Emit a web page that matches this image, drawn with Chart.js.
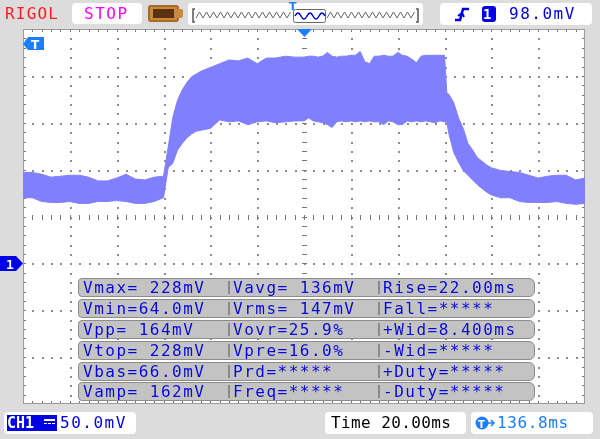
<!DOCTYPE html>
<html><head><meta charset="utf-8">
<script src="https://cdn.jsdelivr.net/npm/chart.js@4/dist/chart.umd.min.js"></script>
<style>
html,body{margin:0;padding:0;}
body{width:600px;height:439px;background:#dcdcdc;position:relative;overflow:hidden;font-family:"DejaVu Sans Mono",monospace;}
#c{position:absolute;left:0;top:0;}
.abs{position:absolute;}
.t{font-family:"DejaVu Sans Mono",monospace;font-size:16px;letter-spacing:1.5px;line-height:18px;white-space:pre;}
.box{background:#fff;border-radius:4px;}
.row{position:absolute;left:78px;width:455px;height:17px;background:#c3c3c3;border:1px solid #8c8c8c;border-radius:4px 6px 6px 4px;}
.cell{position:absolute;top:0;height:17px;color:#0000e6;text-shadow:0 0 1px rgba(255,255,140,0.6);}
.sep{position:absolute;top:2px;width:2px;height:13px;background:#8a8a8a;}
</style>
</head><body>
<canvas id="c" width="600" height="439"></canvas>

<!-- top bar -->
<div class="abs t" style="left:5px;top:5px;color:#ff1a1a;letter-spacing:1.2px;">RIGOL</div>
<div class="abs box" style="left:72px;top:3px;width:70px;height:21px;"></div>
<div class="abs t" style="left:84px;top:5px;color:#ff00ff;">STOP</div>
<div class="abs" style="left:148px;top:5px;width:27px;height:13px;background:#c88a3e;border:2px solid #a86a28;border-radius:3px;"></div>
<div class="abs" style="left:153px;top:9px;width:21px;height:9px;background:#5a3410;"></div>
<div class="abs" style="left:177px;top:9px;width:6px;height:9px;background:#c88a3e;border-radius:0 2px 2px 0;"></div>
<div class="abs box" style="left:188px;top:3px;width:235px;height:22px;border-radius:3px;"></div>
<svg class="abs" style="left:188px;top:0px;" width="235" height="28" id="ov"></svg>
<div class="abs box" style="left:440px;top:3px;width:152px;height:22px;"></div>
<svg class="abs" style="left:452px;top:5px;" width="20" height="18"><polyline points="3,15 8,15 11,4 17,4" fill="none" stroke="#0000e6" stroke-width="2.5"/><polyline points="6,11 10,8 12,12" fill="none" stroke="#0000e6" stroke-width="2"/></svg>
<div class="abs" style="left:482px;top:6px;width:14px;height:16px;background:#0000e6;border-radius:3px;"></div>
<div class="abs t" style="left:483px;top:5px;color:#fff;font-weight:bold;font-size:14px;">1</div>
<div class="abs t" style="left:509px;top:5px;color:#0000e6;">98.0mV</div>

<!-- markers -->
<svg class="abs" style="left:297px;top:29px;" width="15" height="9"><polygon points="0,0 15,0 7.5,8" fill="#1a7fff"/></svg>
<svg class="abs" style="left:23px;top:37px;" width="22" height="14"><polygon points="0,7 5,0 21,0 21,13 5,13" fill="#1a7fff"/><text x="8" y="11.5" font-family="DejaVu Sans" font-weight="bold" font-size="12" fill="#fff">T</text></svg>
<svg class="abs" style="left:0px;top:256px;" width="24" height="15"><polygon points="0,0 16,0 23,7.5 16,15 0,15" fill="#0000e6"/><text x="6" y="12.5" font-family="DejaVu Sans Mono" font-weight="bold" font-size="13" fill="#fff">1</text></svg>

<!-- measurement table -->
<div id="meas"></div>

<!-- bottom bar -->
<div class="abs box" style="left:4px;top:412px;width:132px;height:22px;"></div>
<div class="abs" style="left:7px;top:415px;width:50px;height:16px;background:#0000e6;"></div>
<div class="abs t" style="left:7px;top:414px;color:#fff;font-weight:bold;letter-spacing:0px;font-size:15px;">CH1</div>
<div class="abs" style="left:44px;top:419px;width:11px;height:2px;background:#fff;"></div>
<div class="abs" style="left:44px;top:423px;width:11px;height:1px;border-top:1px dashed #fff;"></div>
<div class="abs t" style="left:60px;top:414px;color:#0000e6;">50.0mV</div>
<div class="abs box" style="left:325px;top:412px;width:141px;height:22px;"></div>
<div class="abs t" style="left:331px;top:414px;color:#000;letter-spacing:0.4px;">Time 20.00ms</div>
<div class="abs box" style="left:471px;top:412px;width:122px;height:22px;"></div>
<svg class="abs" style="left:475px;top:416px;" width="24" height="16"><circle cx="7" cy="7" r="6.5" fill="#1a7fff"/><text x="3" y="11.5" font-family="DejaVu Sans" font-weight="bold" font-size="10" fill="#fff">T</text><polyline points="13,7 19,7" stroke="#1a7fff" stroke-width="1.5"/><polyline points="16,4 19,7 16,10" fill="none" stroke="#1a7fff" stroke-width="1.5"/></svg>
<div class="abs t" style="left:497px;top:414px;color:#1a7fff;letter-spacing:0.6px;">136.8ms</div>

<script>
// ---- data (time in ms relative to trigger, voltage in mV) ----
const timeMs = [-120,-116,-112,-108,-104,-100,-96,-92,-88,-84,-80,-76,-72,-68,-64,-60,
  -58,-56,-54,-52,-50,-48,-46,-44,
  -40,-36,-32,-28,-24,-20,-16,-12,-8,-4,
  0,2,4,6,8,10,12,14,16,18,20,22,24,26,28,30,32,34,36,38,40,42,44,46,48,50,52,54,56,58,60,
  61,62,
  64,66,68,70,72,74,76,78,80,
  84,88,92,96,100,104,108,112,116,120];
const upperMv = [97,97,95,92,93,94,94,92,88,88,91,95,90,89,92,93,
  124,156,174,185,193,199,202,205,
  209,213,217,216,219,213,219,219,221,220,
  220,221,221,220,221,225,221,220,221,221,222,222,226,215,213,221,221,222,221,221,225,222,221,218,214,221,222,222,222,222,222,
  182,180,
  171,155,144,128,121,113,109,105,102,
  99,98,97,94,91,93,94,94,89,91];
const lowerMv = [70,70,66,65,65,66,64,64,66,66,67,66,64,64,66,70,
  102,107,121,128,134,138,141,142,
  144,153,151,152,148,151,152,150,151,152,
  152,155,152,151,150,148,145,151,152,151,152,151,152,151,152,151,151,148,152,151,148,148,152,151,152,151,152,151,150,152,151,
  150,137,
  118,108,99,94,89,84,80,76,73,
  70,70,66,65,65,65,66,64,63,64];
const xMin = -120, xMax = 120;     // 12 div x 20 ms
const yMin = -150, yMax = 250;     // 8 div x 50 mV
const measRows = [
  ["Vmax= 228mV","Vavg= 136mV","Rise=22.00ms"],
  ["Vmin=64.0mV","Vrms= 147mV","Fall=*****"],
  ["Vpp= 164mV","Vovr=25.9%","+Wid=8.400ms"],
  ["Vtop= 228mV","Vpre=16.0%","-Wid=*****"],
  ["Vbas=66.0mV","Prd=*****","+Duty=*****"],
  ["Vamp= 162mV","Freq=*****","-Duty=*****"]
];

// measurement table
(function(){
  const m = document.getElementById('meas');
  const tops=[278,299,320,341,362,382];
  measRows.forEach((r,i)=>{
    const row=document.createElement('div'); row.className='row'; row.style.top=tops[i]+'px';
    const lefts=[4,154,304];
    r.forEach((txt,j)=>{
      const c=document.createElement('div'); c.className='cell t'; c.style.left=lefts[j]+'px'; c.textContent=txt; row.appendChild(c);
      if(j>0){const s=document.createElement('div'); s.className='sep'; s.style.left=(lefts[j]-5)+'px'; row.appendChild(s);}
    });
    m.appendChild(row);
  });
})();

// overview zigzag (decoration)
(function(){
  const svg=document.getElementById('ov');
  function zig(x0,x1,y0,y1,step){let p=[];let k=0;for(let x=x0;x<=x1;x+=step/2){p.push(x+','+(k%2?y0:y1));k++;}return p.join(' ');}
  svg.innerHTML =
   '<text x="101" y="10" font-family="DejaVu Sans" font-weight="bold" font-size="11" fill="#1a7fff">T</text>'+
   '<polyline points="7,9 5,9 5,22 7,22" fill="none" stroke="#555" stroke-width="1.5"/>'+
   '<polyline points="228,9 230,9 230,22 228,22" fill="none" stroke="#555" stroke-width="1.5"/>'+
   '<polyline points="'+zig(8,104,12,18,7)+'" fill="none" stroke="#666" stroke-width="1"/>'+
   '<polyline points="'+zig(139,227,12,18,7)+'" fill="none" stroke="#666" stroke-width="1"/>'+
   '<rect x="105.5" y="9.5" width="32" height="13" rx="2" fill="#fff" stroke="#666"/>'+
   '<path d="M107,16 Q110,10 113,16 T119,16 T125,16 T131,16 T137,16" fill="none" stroke="#0000e6" stroke-width="1.5"/>';
})();

const graticule = {
  id:'graticule',
  beforeDraw(chart){
    const {ctx, chartArea:a} = chart;
    ctx.save();
    ctx.fillStyle='#fff'; ctx.fillRect(a.left,a.top,a.right-a.left,a.bottom-a.top);
    const dx=(a.right-a.left)/60, dy=(a.bottom-a.top)/40;
    ctx.fillStyle='#8c8c8c';
    for(let i=1;i<12;i++){ if(i===6) continue; const px=Math.round(a.left+i*dx*5);
      for(let k=1;k<40;k++){ ctx.fillRect(px,Math.round(a.top+k*dy),2,2);} }
    for(let j=1;j<8;j++){ if(j===4) continue; const py=Math.round(a.top+j*dy*5);
      for(let k=1;k<60;k++){ ctx.fillRect(Math.round(a.left+k*dx),py,2,2);} }
    ctx.fillStyle='#777';
    const cx=Math.round(a.left+30*dx), cy=Math.round(a.top+20*dy);
    for(let k=1;k<40;k++){ ctx.fillRect(cx-2,Math.round(a.top+k*dy),5,1);}
    for(let k=1;k<60;k++){ ctx.fillRect(Math.round(a.left+k*dx),cy-2,1,5);}
    for(let k=1;k<60;k++){ const px=Math.round(a.left+k*dx); ctx.fillRect(px,a.top+1,1,2); ctx.fillRect(px,a.bottom-3,1,2);}
    for(let k=1;k<40;k++){ const py=Math.round(a.top+k*dy); ctx.fillRect(a.left+1,py,2,1); ctx.fillRect(a.right-3,py,2,1);}
    ctx.strokeStyle='#9a9a9a'; ctx.lineWidth=1;
    ctx.strokeRect(a.left+0.5,a.top+0.5,a.right-a.left-1,a.bottom-a.top-1);
    ctx.restore();
  }
};

const wave='rgb(128,128,255)';
new Chart(document.getElementById('c'),{
  type:'line',
  data:{datasets:[
    {data:timeMs.map((t,i)=>({x:t,y:upperMv[i]})),borderColor:wave,backgroundColor:wave,borderWidth:1,pointRadius:0,fill:'+1',tension:0},
    {data:timeMs.map((t,i)=>({x:t,y:lowerMv[i]})),borderColor:wave,backgroundColor:wave,borderWidth:1,pointRadius:0,fill:false,tension:0}
  ]},
  options:{
    responsive:false,animation:false,devicePixelRatio:1,
    layout:{padding:{left:23,top:29,right:15,bottom:35}},
    plugins:{legend:{display:false},tooltip:{enabled:false}},
    scales:{
      x:{type:'linear',min:xMin,max:xMax,display:false},
      y:{type:'linear',min:yMin,max:yMax,display:false}
    }
  },
  plugins:[graticule]
});
</script>
</body></html>
